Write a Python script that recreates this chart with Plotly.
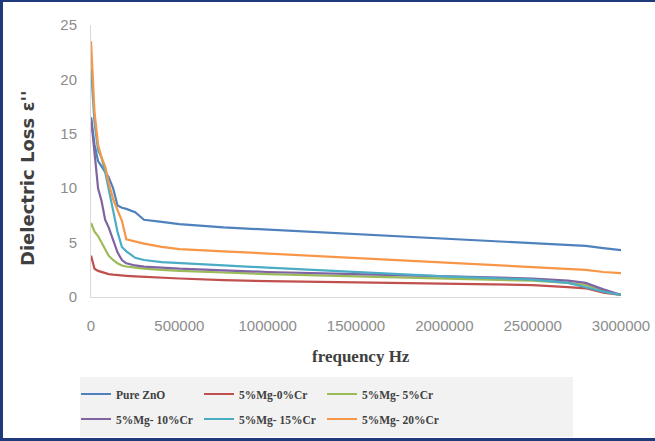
import plotly.graph_objects as go

# frequency grid (Hz)
freq = [0, 20000, 40000, 60000, 80000, 100000, 125000, 150000, 175000, 200000,
        250000, 300000, 400000, 500000, 750000, 1000000, 1500000, 2000000,
        2500000, 2700000, 2800000, 2900000, 3000000]

pure_zno = [16.5, 14.0, 12.5, 12.0, 11.5, 11.0, 10.0, 8.4, 8.2, 8.1,
            7.8, 7.1, 6.9, 6.7, 6.4, 6.2, 5.8, 5.4, 5.0, 4.8, 4.7, 4.5, 4.3]
mg5_cr0 = [3.8, 2.6, 2.4, 2.3, 2.2, 2.1, 2.05, 2.0, 1.95, 1.95,
           1.9, 1.85, 1.8, 1.7, 1.55, 1.45, 1.35, 1.25, 1.1, 0.9, 0.8, 0.4, 0.2]
mg5_cr5 = [6.8, 6.0, 5.6, 5.0, 4.3, 3.8, 3.4, 3.1, 2.9, 2.8,
           2.7, 2.6, 2.5, 2.4, 2.25, 2.1, 1.9, 1.7, 1.5, 1.3, 1.1, 0.6, 0.2]
mg5_cr10 = [16.5, 13.0, 10.0, 8.8, 7.1, 6.4, 5.3, 4.1, 3.4, 3.1,
            2.9, 2.8, 2.7, 2.6, 2.45, 2.3, 2.1, 1.9, 1.7, 1.5, 1.3, 0.7, 0.2]
mg5_cr15 = [21.0, 16.0, 13.5, 12.8, 11.5, 10.0, 8.0, 6.0, 4.6, 4.2,
            3.6, 3.4, 3.2, 3.1, 2.9, 2.7, 2.3, 1.9, 1.6, 1.3, 0.9, 0.5, 0.2]
mg5_cr20 = [23.5, 17.0, 14.0, 12.8, 12.0, 10.5, 9.0, 8.0, 7.0, 5.3,
            5.1, 4.9, 4.6, 4.4, 4.2, 4.0, 3.6, 3.2, 2.8, 2.6, 2.5, 2.3, 2.2]

names = ["Pure ZnO", "5%Mg-0%Cr", "5%Mg- 5%Cr", "5%Mg- 10%Cr", "5%Mg- 15%Cr", "5%Mg- 20%Cr"]
series = [pure_zno, mg5_cr0, mg5_cr5, mg5_cr10, mg5_cr15, mg5_cr20]
colors = ["#4F81BD", "#C0504D", "#9BBB59", "#8064A2", "#4BACC6", "#F79646"]

x_ticks = [0, 500000, 1000000, 1500000, 2000000, 2500000, 3000000]
y_ticks = [0, 5, 10, 15, 20, 25]

fig = go.Figure()
for i, (name, vals, col) in enumerate(zip(names, series, colors)):
    fig.add_trace(go.Scatter(x=freq, y=vals, mode="lines", name=name,
                             line=dict(color=col, width=2.2),
                             legend="legend" if i < 3 else "legend2"))

W, H = 655, 441
L, R, T, B = 91, 34, 25, 144
pw, ph = W - L - R, H - T - B

def px_x(px):
    return (px - L) / pw

def px_y(py):
    return (H - B - py) / ph

tick_font = dict(family="Liberation Sans", size=15, color="#8c8c8c")
leg_font = dict(family="Liberation Serif", size=11.5, color="#404040", weight="bold")

fig.update_layout(
    width=W, height=H,
    margin=dict(l=L, r=R, t=T, b=B, autoexpand=False),
    paper_bgcolor="white", plot_bgcolor="white",
    showlegend=True,
    legend=dict(orientation="h", x=px_x(76), xanchor="left", y=px_y(394), yanchor="middle",
                bgcolor="rgba(0,0,0,0)", font=leg_font,
                entrywidth=78, itemwidth=30),
    legend2=dict(orientation="h", x=px_x(76), xanchor="left", y=px_y(419), yanchor="middle",
                 bgcolor="rgba(0,0,0,0)", font=leg_font,
                 entrywidth=78, itemwidth=30),
    xaxis=dict(range=[0, 3000000], tickvals=x_ticks, ticktext=[str(v) for v in x_ticks],
               showgrid=False, zeroline=False, showline=True, linecolor="#d9d9d9", linewidth=1,
               ticks="outside", ticklen=15, tickcolor="rgba(0,0,0,0)",
               tickfont=tick_font),
    yaxis=dict(range=[0, 25], tickvals=y_ticks, showgrid=False, zeroline=False,
               showline=True, linecolor="#d9d9d9", linewidth=1,
               ticks="outside", ticklen=10, tickcolor="rgba(0,0,0,0)",
               tickfont=tick_font),
)

fig.add_annotation(text="<b>Dielectric Loss ε''</b>", xref="paper", yref="paper",
                   x=px_x(27), y=px_y(178), xanchor="center", yanchor="middle",
                   textangle=-90, showarrow=False,
                   font=dict(family="DejaVu Sans", size=18, color="#404040"))
fig.add_annotation(text="<b>frequency Hz</b>", xref="paper", yref="paper",
                   x=px_x(361), y=px_y(356), xanchor="center", yanchor="middle",
                   showarrow=False,
                   font=dict(family="Liberation Serif", size=17, color="#404040"))

# legend background box
fig.add_shape(type="rect", xref="paper", yref="paper",
              x0=px_x(80), x1=px_x(573), y0=px_y(437), y1=px_y(377),
              fillcolor="#f2f2f2", line=dict(width=0), layer="below")
# outer border (left, top, bottom)
border = "#1f3a7a"
fig.add_shape(type="line", xref="paper", yref="paper", x0=px_x(1.5), x1=px_x(1.5),
              y0=px_y(0), y1=px_y(441), line=dict(color=border, width=3))
fig.add_shape(type="line", xref="paper", yref="paper", x0=px_x(0), x1=px_x(655),
              y0=px_y(1), y1=px_y(1), line=dict(color=border, width=2))
fig.add_shape(type="line", xref="paper", yref="paper", x0=px_x(0), x1=px_x(655),
              y0=px_y(439.5), y1=px_y(439.5), line=dict(color=border, width=3))

fig.write_html("out.html")
